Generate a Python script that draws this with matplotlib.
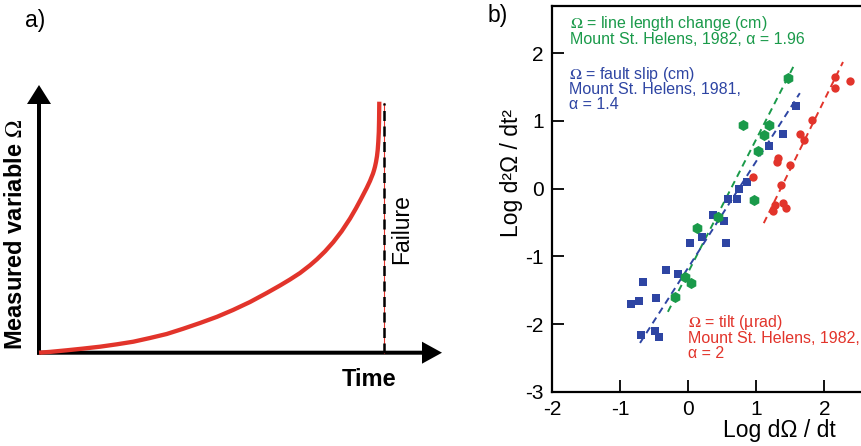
import matplotlib
matplotlib.use('Agg')
import matplotlib.pyplot as plt

plt.rcParams['font.family'] = ['Liberation Sans', 'DejaVu Sans']
plt.rcParams['mathtext.fontset'] = 'stix'

# colores
rojo = '#e2342b'
verde = '#1a9a4a'
azul = '#2e45a3'

# Panel a: curva conceptual (tiempo normalizado a la falla, Omega normalizado)
curva_t = [0, 0.0319, 0.0802, 0.1274, 0.1767, 0.2259, 0.2731, 0.3215, 0.3698,
           0.4170, 0.4663, 0.5155, 0.5618, 0.6111, 0.6594, 0.6979, 0.7269,
           0.7559, 0.7848, 0.8051, 0.8283, 0.8523, 0.8766, 0.9007, 0.9180,
           0.9325, 0.9490, 0.9586, 0.9673, 0.9702, 0.9731, 0.9760, 0.9789,
           0.9809, 0.9826, 0.9841, 0.9849, 0.9855]
curva_om = [0, 0.0032, 0.0096, 0.0163, 0.0239, 0.0335, 0.0438, 0.0586, 0.0745,
            0.0952, 0.1183, 0.1430, 0.1701, 0.2020, 0.2378, 0.2677, 0.2916,
            0.3175, 0.3482, 0.3725, 0.4036, 0.4406, 0.4841, 0.5343, 0.5753,
            0.6124, 0.6562, 0.6841, 0.7139, 0.7267, 0.7414, 0.7598, 0.7837,
            0.8076, 0.8394, 0.8793, 0.9271, 1.0]
t_falla = 1.0

# Panel b: datos log-log
verde_x = [1.47, 0.80, 1.18, 1.11, 1.02, 0.96, 0.44, 0.125, -0.05, 0.04, -0.195]
verde_y = [1.63, 0.94, 0.94, 0.79, 0.56, -0.17, -0.42, -0.58, -1.31, -1.39, -1.60]

azul_x = [1.58, 1.39, 1.19, 0.86, 0.745, 0.58, 0.71, 0.36, 0.52, 0.025, 0.20,
          0.55, -0.33, -0.15, -0.67, -0.72, -0.84, -0.48, -0.70, -0.49, -0.43]
azul_y = [1.22, 0.81, 0.63, 0.10, 0.0, -0.15, -0.15, -0.39, -0.48, -0.80, -0.71,
          -0.80, -1.20, -1.26, -1.38, -1.66, -1.70, -1.62, -2.16, -2.10, -2.19]

rojo_x = [2.16, 2.38, 2.16, 1.82, 1.64, 1.70, 1.32, 1.30, 1.50, 0.95, 1.36,
          1.27, 1.24, 1.39, 1.43]
rojo_y = [1.65, 1.59, 1.49, 1.01, 0.81, 0.72, 0.45, 0.39, 0.35, 0.17, 0.05,
          -0.24, -0.33, -0.21, -0.29]

# rectas de ajuste (extremos)
verde_lx = [-0.30, 1.57]
verde_ly = [-1.82, 1.85]
azul_lx = [-0.71, 1.64]
azul_ly = [-2.28, 1.41]
rojo_lx = [1.11, 2.275]
rojo_ly = [-0.51, 1.87]

W, H = 862, 446
fig = plt.figure(figsize=(W / 100, H / 100), dpi=100)

# ---------------- Panel a ----------------
x0, x1 = 39, 384.3      # pixeles de t=0 y t=1
y0, y1 = 352.7, 101.7   # pixeles de Omega=0 y Omega=1
sx = x1 - x0
sy = y0 - y1
ax_a = fig.add_axes([x0 / W, (H - y0) / H, 1.2 * sx / W, 1.12 * sy / H])
ax_a.set_xlim(0, 1.2)
ax_a.set_ylim(0, 1.12)
ax_a.axis('off')

# ejes con flechas
lw_px = 4
ax_a.arrow(-2 / sx, 0, (442 - x0 + 2) / sx, 0, width=lw_px / sy,
           head_width=22 / sy, head_length=20 / sx, length_includes_head=True,
           color='k', lw=0, clip_on=False)
ax_a.arrow(0, -2 / sy, 0, (y0 - 85 + 2) / sy, width=lw_px / sx,
           head_width=24 / sx, head_length=19 / sy, length_includes_head=True,
           color='k', lw=0, clip_on=False)

# línea de falla
ax_a.plot([t_falla, t_falla], [0, (y0 - 102.7) / sy], color=rojo, lw=0.8,
          clip_on=False, zorder=2)
ax_a.plot([t_falla, t_falla], [0, (y0 - 102.7) / sy], color='k', lw=1.8,
          dashes=(4, 2.2), clip_on=False, zorder=3)

ax_a.plot(curva_t, curva_om, color=rojo, lw=3.1, solid_capstyle='butt',
          solid_joinstyle='round', clip_on=False, zorder=4)

fig.text(35.5 / W, 1 - 21 / H, 'a)', fontsize=16.5, ha='center', va='center')
fig.text(16 / W, 1 - 234.5 / H, r'Measured variable $\Omega$', fontsize=17,
         fontweight='bold', rotation=90, ha='center', va='center')
fig.text(369 / W, 1 - 379 / H, 'Time', fontsize=17, fontweight='bold',
         ha='center', va='center')
fig.text(402 / W, 1 - 229 / H, 'Failure', fontsize=16.5, rotation=90,
         ha='center', va='center')

# ---------------- Panel b ----------------
left_px, bottom_px, top_px = 552.3, 391.7, 6
ax_b = fig.add_axes([left_px / W, (H - bottom_px) / H, (W - left_px) / W,
                     (bottom_px - top_px) / H])
ax_b.set_xlim(-2, -2 + (W - left_px) / 68)
ax_b.set_ylim(-3, -3 + (bottom_px - top_px) / 67.7)
ax_b.spines['right'].set_visible(False)
for s in ['left', 'bottom', 'top']:
    ax_b.spines[s].set_linewidth(1.6)
ax_b.set_xticks([-2, -1, 0, 1, 2])
ax_b.set_yticks([-3, -2, -1, 0, 1, 2])
ax_b.set_xticklabels(['-2', '-1', '0', '1', '2'])
ax_b.set_yticklabels(['-3', '-2', '-1', '0', '1', '2'])
ax_b.tick_params(direction='in', length=8.5, width=1.3, labelsize=15, pad=6,
                 top=False, right=False)

ax_b.plot(verde_lx, verde_ly, color=verde, lw=1.4, dashes=(3.5, 2.5), zorder=2)
ax_b.plot(azul_lx, azul_ly, color=azul, lw=1.4, dashes=(3.5, 2.5), zorder=2)
ax_b.plot(rojo_lx, rojo_ly, color=rojo, lw=1.4, dashes=(3.5, 2.5), zorder=2)

ax_b.plot(azul_x, azul_y, 's', color=azul, ms=6.2, mew=0, zorder=3)
ax_b.plot(verde_x, verde_y, 'h', color=verde, ms=8, mew=0, zorder=3)
ax_b.plot(rojo_x, rojo_y, 'o', color=rojo, ms=6, mew=0, zorder=3)

fs_txt = 11.5
ax_b.text(-1.74, 2.377, r'$\Omega$ = line length change (cm)', color=verde, fontsize=fs_txt)
ax_b.text(-1.74, 2.14, 'Mount St. Helens, 1982, α = 1.96', color=verde, fontsize=fs_txt)
ax_b.text(-1.75, 1.62, r'$\Omega$ = fault slip (cm)', color=azul, fontsize=fs_txt)
ax_b.text(-1.75, 1.39, 'Mount St. Helens, 1981,', color=azul, fontsize=fs_txt)
ax_b.text(-1.75, 1.17, 'α = 1.4', color=azul, fontsize=fs_txt)
ax_b.text(0.0, -2.05, r'$\Omega$ = tilt (µrad)', color=rojo, fontsize=fs_txt)
ax_b.text(0.0, -2.28, 'Mount St. Helens, 1982,', color=rojo, fontsize=fs_txt)
ax_b.text(0.0, -2.50, 'α = 2', color=rojo, fontsize=fs_txt)

fig.text(498 / W, 1 - 15.5 / H, 'b)', fontsize=16.5, ha='center', va='center')
fig.text(779.5 / W, 1 - 430 / H, 'Log dΩ / dt', fontsize=16.5, ha='center',
         va='center')
fig.text(511.7 / W, 1 - 173 / H, 'Log d²Ω / dt²', fontsize=16.5, rotation=90,
         ha='center', va='center')

fig.savefig('out.png', dpi=100)
